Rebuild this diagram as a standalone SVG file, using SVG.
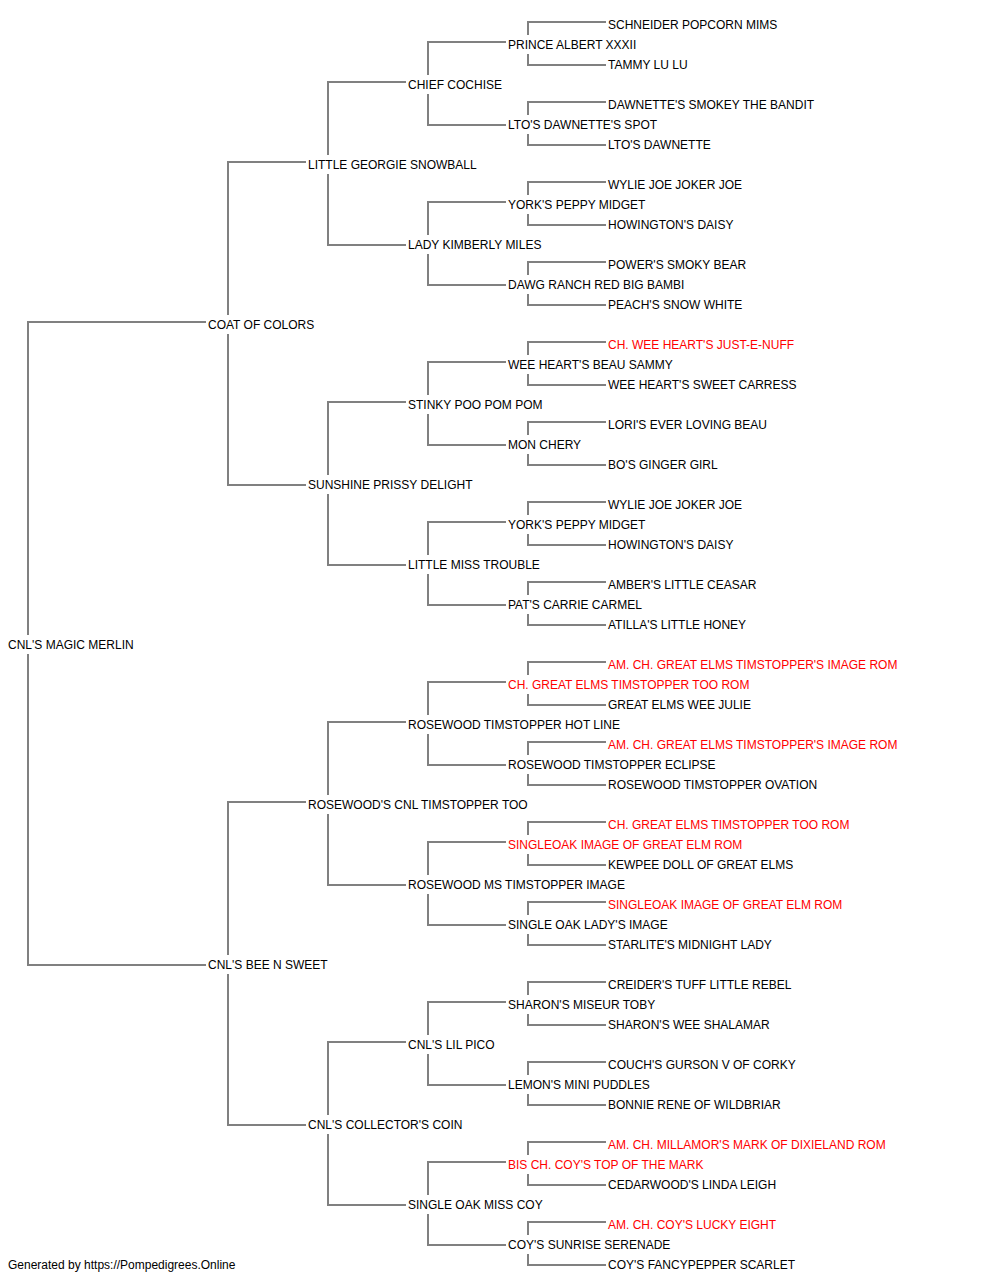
<svg xmlns="http://www.w3.org/2000/svg" width="1000" height="1280" viewBox="0 0 1000 1280">
<style>
text{font-family:"Liberation Sans",Arial,sans-serif;font-size:12px;fill:#000}
text.r{fill:#ff0000}
#connectors path{fill:none;stroke:#808080;stroke-width:2}
</style>
<rect width="1000" height="1280" fill="#fff"/>
<g id="connectors">
<path d="M206,322H28V635M28,654V965H206"/>
<path d="M306,162H228V315M228,334V485H306"/>
<path d="M306,802H228V955M228,974V1125H306"/>
<path d="M406,82H328V155M328,174V245H406"/>
<path d="M406,402H328V475M328,494V565H406"/>
<path d="M406,722H328V795M328,814V885H406"/>
<path d="M406,1042H328V1115M328,1134V1205H406"/>
<path d="M506,42H428V75M428,94V125H506"/>
<path d="M506,202H428V235M428,254V285H506"/>
<path d="M506,362H428V395M428,414V445H506"/>
<path d="M506,522H428V555M428,574V605H506"/>
<path d="M506,682H428V715M428,734V765H506"/>
<path d="M506,842H428V875M428,894V925H506"/>
<path d="M506,1002H428V1035M428,1054V1085H506"/>
<path d="M506,1162H428V1195M428,1214V1245H506"/>
<path d="M606,22H528V35M528,54V65H606"/>
<path d="M606,102H528V115M528,134V145H606"/>
<path d="M606,182H528V195M528,214V225H606"/>
<path d="M606,262H528V275M528,294V305H606"/>
<path d="M606,342H528V355M528,374V385H606"/>
<path d="M606,422H528V435M528,454V465H606"/>
<path d="M606,502H528V515M528,534V545H606"/>
<path d="M606,582H528V595M528,614V625H606"/>
<path d="M606,662H528V675M528,694V705H606"/>
<path d="M606,742H528V755M528,774V785H606"/>
<path d="M606,822H528V835M528,854V865H606"/>
<path d="M606,902H528V915M528,934V945H606"/>
<path d="M606,982H528V995M528,1014V1025H606"/>
<path d="M606,1062H528V1075M528,1094V1105H606"/>
<path d="M606,1142H528V1155M528,1174V1185H606"/>
<path d="M606,1222H528V1235M528,1254V1265H606"/>
</g>
<g id="nodes" transform="translate(0,1)">
<g id="n0"><text x="608" y="28">SCHNEIDER POPCORN MIMS</text></g>
<g id="n1"><text x="508" y="48">PRINCE ALBERT XXXII</text></g>
<g id="n2"><text x="608" y="68">TAMMY LU LU</text></g>
<g id="n3"><text x="408" y="88">CHIEF COCHISE</text></g>
<g id="n4"><text x="608" y="108">DAWNETTE'S SMOKEY THE BANDIT</text></g>
<g id="n5"><text x="508" y="128">LTO'S DAWNETTE'S SPOT</text></g>
<g id="n6"><text x="608" y="148">LTO'S DAWNETTE</text></g>
<g id="n7"><text x="308" y="168">LITTLE GEORGIE SNOWBALL</text></g>
<g id="n8"><text x="608" y="188">WYLIE JOE JOKER JOE</text></g>
<g id="n9"><text x="508" y="208">YORK'S PEPPY MIDGET</text></g>
<g id="n10"><text x="608" y="228">HOWINGTON'S DAISY</text></g>
<g id="n11"><text x="408" y="248">LADY KIMBERLY MILES</text></g>
<g id="n12"><text x="608" y="268">POWER'S SMOKY BEAR</text></g>
<g id="n13"><text x="508" y="288">DAWG RANCH RED BIG BAMBI</text></g>
<g id="n14"><text x="608" y="308">PEACH'S SNOW WHITE</text></g>
<g id="n15"><text x="208" y="328">COAT OF COLORS</text></g>
<g id="n16"><text class="r" x="608" y="348">CH. WEE HEART'S JUST-E-NUFF</text></g>
<g id="n17"><text x="508" y="368">WEE HEART'S BEAU SAMMY</text></g>
<g id="n18"><text x="608" y="388">WEE HEART'S SWEET CARRESS</text></g>
<g id="n19"><text x="408" y="408">STINKY POO POM POM</text></g>
<g id="n20"><text x="608" y="428">LORI'S EVER LOVING BEAU</text></g>
<g id="n21"><text x="508" y="448">MON CHERY</text></g>
<g id="n22"><text x="608" y="468">BO'S GINGER GIRL</text></g>
<g id="n23"><text x="308" y="488">SUNSHINE PRISSY DELIGHT</text></g>
<g id="n24"><text x="608" y="508">WYLIE JOE JOKER JOE</text></g>
<g id="n25"><text x="508" y="528">YORK'S PEPPY MIDGET</text></g>
<g id="n26"><text x="608" y="548">HOWINGTON'S DAISY</text></g>
<g id="n27"><text x="408" y="568">LITTLE MISS TROUBLE</text></g>
<g id="n28"><text x="608" y="588">AMBER'S LITTLE CEASAR</text></g>
<g id="n29"><text x="508" y="608">PAT'S CARRIE CARMEL</text></g>
<g id="n30"><text x="608" y="628">ATILLA'S LITTLE HONEY</text></g>
<g id="n31"><text x="8" y="648">CNL'S MAGIC MERLIN</text></g>
<g id="n32"><text class="r" x="608" y="668">AM. CH. GREAT ELMS TIMSTOPPER'S IMAGE ROM</text></g>
<g id="n33"><text class="r" x="508" y="688">CH. GREAT ELMS TIMSTOPPER TOO ROM</text></g>
<g id="n34"><text x="608" y="708">GREAT ELMS WEE JULIE</text></g>
<g id="n35"><text x="408" y="728">ROSEWOOD TIMSTOPPER HOT LINE</text></g>
<g id="n36"><text class="r" x="608" y="748">AM. CH. GREAT ELMS TIMSTOPPER'S IMAGE ROM</text></g>
<g id="n37"><text x="508" y="768">ROSEWOOD TIMSTOPPER ECLIPSE</text></g>
<g id="n38"><text x="608" y="788">ROSEWOOD TIMSTOPPER OVATION</text></g>
<g id="n39"><text x="308" y="808">ROSEWOOD'S CNL TIMSTOPPER TOO</text></g>
<g id="n40"><text class="r" x="608" y="828">CH. GREAT ELMS TIMSTOPPER TOO ROM</text></g>
<g id="n41"><text class="r" x="508" y="848">SINGLEOAK IMAGE OF GREAT ELM ROM</text></g>
<g id="n42"><text x="608" y="868">KEWPEE DOLL OF GREAT ELMS</text></g>
<g id="n43"><text x="408" y="888">ROSEWOOD MS TIMSTOPPER IMAGE</text></g>
<g id="n44"><text class="r" x="608" y="908">SINGLEOAK IMAGE OF GREAT ELM ROM</text></g>
<g id="n45"><text x="508" y="928">SINGLE OAK LADY'S IMAGE</text></g>
<g id="n46"><text x="608" y="948">STARLITE'S MIDNIGHT LADY</text></g>
<g id="n47"><text x="208" y="968">CNL'S BEE N SWEET</text></g>
<g id="n48"><text x="608" y="988">CREIDER'S TUFF LITTLE REBEL</text></g>
<g id="n49"><text x="508" y="1008">SHARON'S MISEUR TOBY</text></g>
<g id="n50"><text x="608" y="1028">SHARON'S WEE SHALAMAR</text></g>
<g id="n51"><text x="408" y="1048">CNL'S LIL PICO</text></g>
<g id="n52"><text x="608" y="1068">COUCH'S GURSON V OF CORKY</text></g>
<g id="n53"><text x="508" y="1088">LEMON'S MINI PUDDLES</text></g>
<g id="n54"><text x="608" y="1108">BONNIE RENE OF WILDBRIAR</text></g>
<g id="n55"><text x="308" y="1128">CNL'S COLLECTOR'S COIN</text></g>
<g id="n56"><text class="r" x="608" y="1148">AM. CH. MILLAMOR'S MARK OF DIXIELAND ROM</text></g>
<g id="n57"><text class="r" x="508" y="1168">BIS CH. COY'S TOP OF THE MARK</text></g>
<g id="n58"><text x="608" y="1188">CEDARWOOD'S LINDA LEIGH</text></g>
<g id="n59"><text x="408" y="1208">SINGLE OAK MISS COY</text></g>
<g id="n60"><text class="r" x="608" y="1228">AM. CH. COY'S LUCKY EIGHT</text></g>
<g id="n61"><text x="508" y="1248">COY'S SUNRISE SERENADE</text></g>
<g id="n62"><text x="608" y="1268">COY'S FANCYPEPPER SCARLET</text></g>
</g>
<g id="footer"><text x="8" y="1269">Generated by https://Pompedigrees.Online</text></g>
</svg>
